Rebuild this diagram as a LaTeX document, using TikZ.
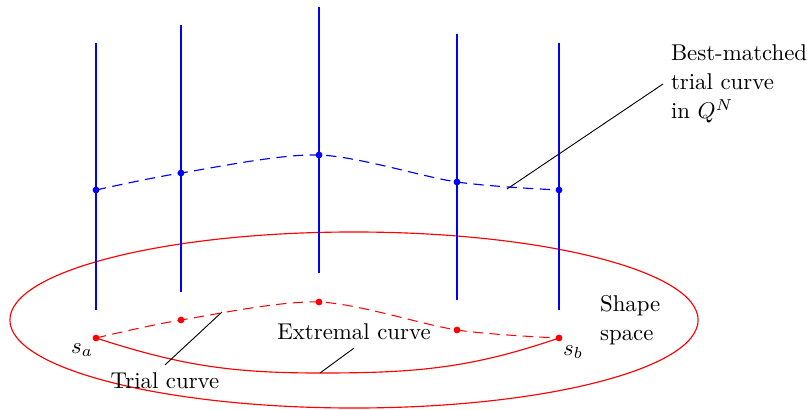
\documentclass[tikz,border=0pt]{standalone}
\usepackage{amsmath}
\usepackage{tikz}
\usetikzlibrary{positioning, calc}
\tikzset{
  fib/.style   = {blue, line width=0.45pt},
  qcurve/.style= {blue, dash pattern=on 4.5pt off 2.8pt, line width=0.5pt},
  scurve/.style= {red, dash pattern=on 4.5pt off 2.8pt, line width=0.45pt},
  ext/.style   = {red, line width=0.5pt},
  lead/.style  = {black, line width=0.4pt},
  lbl/.style   = {font=\normalsize, align=left},
}

\begin{document}
\begin{tikzpicture}[x=0.0154cm, y=-0.0154cm]
    \useasboundingbox (0,0) rectangle (807,410);
    % shape space
    \draw[red, line width=0.5pt] (354,320) ellipse [x radius=5.298cm, y radius=1.355cm];
    % fibres
    \draw[fib] (96,43)--(96,310);
    \draw[fib] (181,25)--(181,292);
    \draw[fib] (319,7)--(319,273);
    \draw[fib] (457,34)--(457,300);
    \draw[fib] (559,43)--(559,310);
    % points
    \coordinate (b1) at (96,190);
    \coordinate (b2) at (181,173);
    \coordinate (b3) at (319,155);
    \coordinate (b4) at (457,182);
    \coordinate (b5) at (559,190);
    \coordinate (r1) at (96,338);
    \coordinate (r2) at (181,320);
    \coordinate (r3) at (319,302);
    \coordinate (r4) at (457,330);
    \coordinate (r5) at (559,338);
    \coordinate (em) at (320,373);
    \coordinate (bq) at (507,189);
    \coordinate (tq) at (222,312);
    % curves
    \draw[qcurve] plot[smooth] coordinates {(b1) (b2) (b3) (b4) (b5)};
    \draw[scurve] plot[smooth] coordinates {(r1) (r2) (r3) (r4) (r5)};
    \draw[ext] (r1) to[out=-18,in=180] (em) to[out=0,in=-161] (r5);
    \foreach \p in {b1,b2,b3,b4,b5} \fill[blue] (\p) circle[radius=1.5pt];
    \foreach \p in {r1,r2,r3,r4,r5} \fill[red] (\p) circle[radius=1.5pt];
    % labels
    \node[lbl, anchor=west] (bm) at (663,84) {Best-matched\\[0.7pt]trial curve\\[0.7pt]in $Q^N$};
    \node[lbl, anchor=west] (ss) at (592,320) {Shape\\[0.7pt]space};
    \node (sa) at (82,350) {$s_a$};
    \node (sb) at (573,352) {$s_b$};
    \node (tc) at (165,381) {Trial curve};
    \node (ec) at (354,332) {Extremal curve};
    \draw[lead] (bq) -- (bm.west);
    \draw[lead] (tq) -- (tc.north);
    \draw[lead] (em) -- (ec.south);
\end{tikzpicture}
\end{document}
